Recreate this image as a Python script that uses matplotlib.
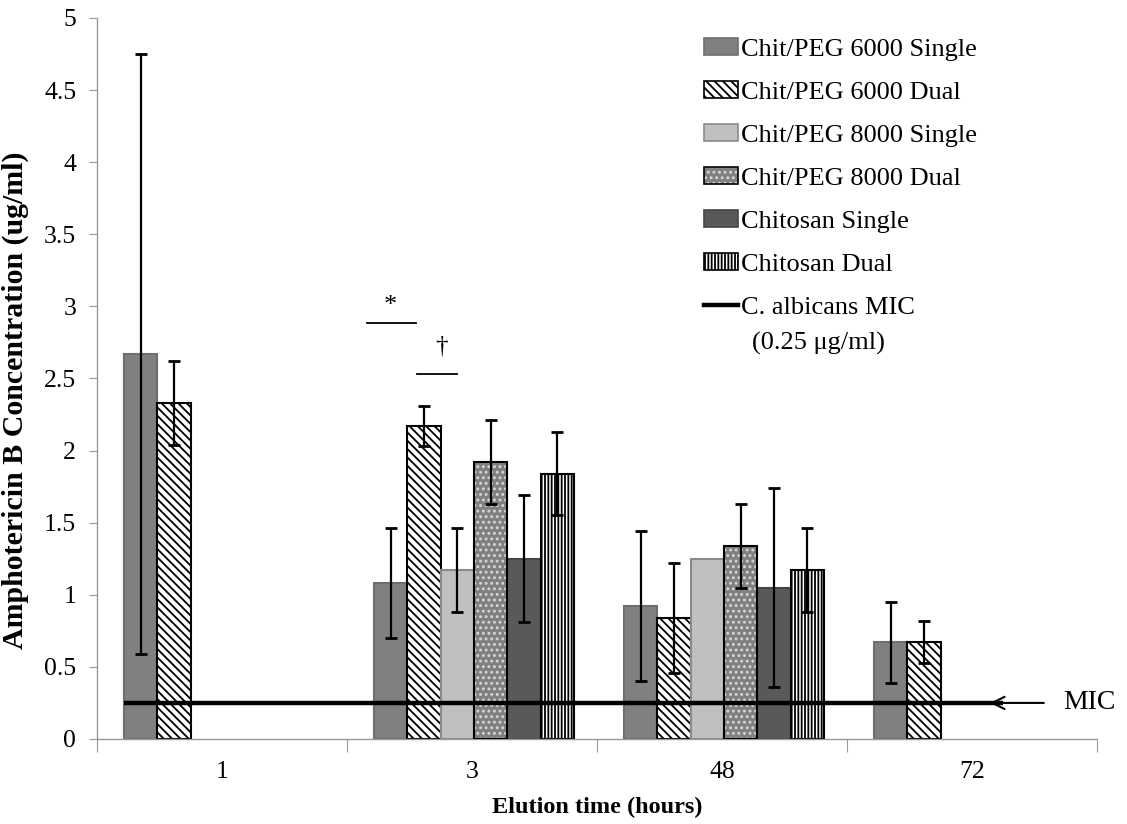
import numpy as np
import matplotlib
matplotlib.use("Agg")
import matplotlib.pyplot as plt
from matplotlib.patches import Patch
from matplotlib.lines import Line2D

plt.rcParams['font.family'] = ['Liberation Serif', 'DejaVu Serif']
plt.rcParams['hatch.linewidth'] = 1.3

# ---------------- data ----------------
categories = ["1", "3", "48", "72"]
series_names = ["Chit/PEG 6000 Single", "Chit/PEG 6000 Dual", "Chit/PEG 8000 Single",
                "Chit/PEG 8000 Dual", "Chitosan Single", "Chitosan Dual"]
nan = np.nan
s1 = [2.67, 1.08, 0.92, 0.67]
e1 = [2.08, 0.38, 0.52, 0.28]
s2 = [2.33, 2.17, 0.84, 0.67]
e2 = [0.29, 0.14, 0.38, 0.145]
s3 = [nan, 1.17, 1.25, nan]
e3 = [nan, 0.29, nan, nan]
s4 = [nan, 1.92, 1.34, nan]
e4 = [nan, 0.29, 0.29, nan]
s5 = [nan, 1.25, 1.05, nan]
e5 = [nan, 0.44, 0.69, nan]
s6 = [nan, 1.84, 1.17, nan]
e6 = [nan, 0.29, 0.29, nan]
mic_value = 0.25
mic_label = "C. albicans MIC"
mic_sub = "(0.25 \u03bcg/ml)"
y_ticks = [0, 0.5, 1, 1.5, 2, 2.5, 3, 3.5, 4, 4.5, 5]
y_tick_labels = ["0", "0.5", "1", "1.5", "2", "2.5", "3", "3.5", "4", "4.5", "5"]

values = [s1, s2, s3, s4, s5, s6]
errors = [e1, e2, e3, e4, e5, e6]

# ---------------- figure ----------------
fig = plt.figure(figsize=(11.27, 8.24), dpi=100)
ax = fig.add_axes([0.0861, 0.1032, 0.8873, 0.875])

x = np.arange(len(categories))
bw = 0.8 / 6
offsets = (np.arange(6) - 2.5) * bw + 0.008

styles = [
    dict(facecolor="#808080", edgecolor="#6e6e6e", hatch=None),
    dict(facecolor="white", edgecolor="black", hatch="\\\\\\\\"),
    dict(facecolor="#c0c0c0", edgecolor="#8a8a8a", hatch=None),
    dict(facecolor="#808080", edgecolor="black", hatch="..."),
    dict(facecolor="#595959", edgecolor="#454545", hatch=None),
    dict(facecolor="white", edgecolor="black", hatch="|||||"),
]

handles = []
for i in range(6):
    st = styles[i]
    pos = x + offsets[i]
    v = np.array(values[i], dtype=float)
    if i == 3:
        # gray fill with light dots, black outline
        ax.bar(pos, v, bw, facecolor=st["facecolor"], edgecolor="#d8d8d8",
               hatch=st["hatch"], linewidth=0, zorder=2)
        ax.bar(pos, v, bw, fill=False, edgecolor="black", linewidth=1.5, zorder=3)
        h = (Patch(facecolor=st["facecolor"], edgecolor="#d8d8d8", hatch="...", linewidth=0),
             Patch(fill=False, edgecolor="black", linewidth=1.2))
    else:
        ax.bar(pos, v, bw, facecolor=st["facecolor"], edgecolor=st["edgecolor"],
               hatch=st["hatch"], linewidth=1.5, zorder=2)
        h = Patch(facecolor=st["facecolor"], edgecolor=st["edgecolor"],
                  hatch=st["hatch"], linewidth=1.2)
    handles.append(h)
    ax.errorbar(pos, v, yerr=np.array(errors[i], dtype=float), fmt="none",
                ecolor="black", elinewidth=1.6, capsize=4, capthick=2, zorder=4)

# MIC line
mic_start = x[0] + offsets[0] - bw / 2
mic_end = x[-1] + 0.124
ax.hlines(mic_value, mic_start, mic_end, color="black", linewidth=3.2, zorder=5)
mic_handle = Line2D([], [], color="black", linewidth=3.2)

# MIC arrow annotation
ax.annotate("MIC", xy=(x[-1] + 0.072, mic_value), xytext=(x[-1] + 0.365, mic_value),
            fontsize=20, va="center", ha="left", annotation_clip=False,
            arrowprops=dict(arrowstyle="->", color="black", lw=1.5,
                            mutation_scale=22, shrinkA=12, shrinkB=0))

# significance markers (group "3")
g = x[1]
ax.plot([g + offsets[0] - 0.095, g + offsets[1] - 0.032], [2.885, 2.885], color="black", lw=1.3)
ax.text(g + offsets[0], 3.0, "*", ha="center", va="center", fontsize=19)
ax.plot([g + offsets[1] - 0.028, g + offsets[2] - 0.001], [2.53, 2.53], color="black", lw=1.3)
ax.text(g + offsets[1] + 0.068, 2.72, "\u2020", ha="center", va="center", fontsize=18)

# axes styling
ax.set_xlim(-0.5, 3.5)
ax.set_ylim(0, 5)
ax.set_yticks(y_ticks)
ax.set_yticklabels(y_tick_labels, fontsize=18.5)
ax.set_xticks(np.arange(-0.5, 4.0, 1.0))
ax.set_xticklabels([])
ax.set_xticks(x, minor=True)
ax.set_xticklabels(categories, minor=True, fontsize=18.5)
ax.tick_params(axis="x", which="major", length=9, color="#999999", direction="out")
ax.tick_params(axis="x", which="minor", length=0, pad=16)
ax.tick_params(axis="y", length=6, color="#999999", direction="out", pad=9)
for sp in ["top", "right"]:
    ax.spines[sp].set_visible(False)
for sp in ["left", "bottom"]:
    ax.spines[sp].set_color("#999999")
    ax.spines[sp].set_linewidth(1.0)

ax.set_xlabel("Elution time (hours)", fontsize=17.5, fontweight="bold", labelpad=10)
ax.set_ylabel("Amphotericin B Concentration (ug/ml)", fontsize=21.5, fontweight="bold")
ax.yaxis.set_label_coords(-0.068, 0.47)

leg = ax.legend(handles + [mic_handle], series_names + [mic_label],
                loc="upper left", bbox_to_anchor=(0.607, 0.972), frameon=False,
                fontsize=19, handlelength=1.3, handleheight=0.62, handletextpad=0.12,
                labelspacing=0.765, borderpad=0, borderaxespad=0)
ax.text(0.655, 0.548, mic_sub, transform=ax.transAxes, fontsize=19,
        ha="left", va="center")

fig.savefig("out.png", dpi=100)
